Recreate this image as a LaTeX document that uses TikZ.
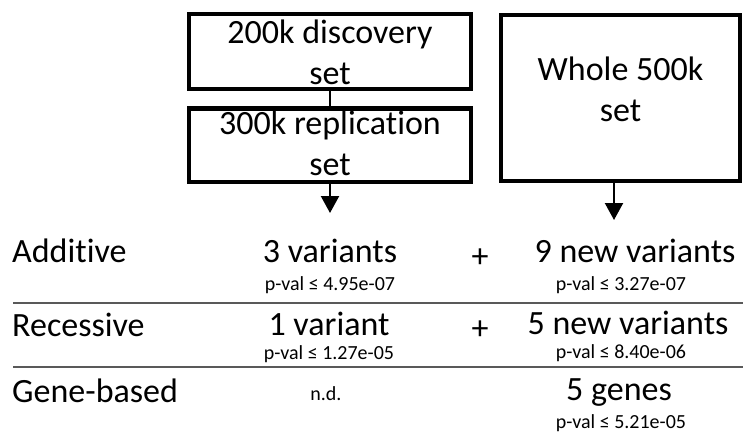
\documentclass[tikz,border=0pt]{standalone}
\usepackage{fontspec}
\setmainfont{Carlito}[Ligatures=NoCommon]
\usetikzlibrary{arrows.meta}

\begin{document}
\begin{tikzpicture}[x=1pt,y=-1pt,
    big/.style={font=\fontsize{34}{41}\selectfont,inner sep=0pt},
    small/.style={font=\fontsize{20}{24}\selectfont,inner sep=0pt},
    setbox/.style={draw,line width=4pt,big,align=center},
    flow/.style={line width=2.2pt,-{Triangle[width=18pt,length=17pt]}}]
        \useasboundingbox (0,0) rectangle (743,433);
        % Draw the sample sets
        \node[setbox,minimum width=282,minimum height=75] (disc) at (330,52) {200k discovery\\set};
        \node[setbox,minimum width=282,minimum height=73,text depth=3pt] (repl) at (330,145) {300k replication\\set};
        \node[setbox,minimum width=239,minimum height=166,text depth=17pt] (whole) at (620.5,98) {Whole 500k\\set};
        % Connect the sets and point to the results
        \coordinate (res1) at (330,213);
        \coordinate (res2) at (614,220);
        \draw[line width=2.2pt] (disc) -- (repl);
        \draw[flow] (repl) -- (res1);
        \draw[flow] (whole.south -| res2) -- (res2);
        % Add row labels and separators
        \foreach \lab/\y [count=\i] in {Additive/262,Recessive/336,Gene-based/402}
            \node[big,anchor=base west] (row\i) at (12,\y) {\lab};
        \foreach \y in {303,367} \draw[black!65,line width=1.5pt] (13,\y) -- (743,\y);
        % Results of the discovery/replication analysis
        \node[big,anchor=base,text depth=0pt] (add1) at (330,262) {3 variants};
        \node[small,anchor=base] (addp1) at (330,290) {p-val ≤ 4.95e-07};
        \node[big,anchor=base,text depth=0pt] (rec1) at (329,335) {1 variant};
        \node[small,anchor=base] (recp1) at (329,359) {p-val ≤ 1.27e-05};
        \node[small,anchor=base] (gen1) at (326,400) {n.d.};
        % Plus signs
        \node[big] (plus1) at (480,258) {+};
        \node[big] (plus2) at (480,330) {+};
        % Results of the whole set analysis
        \node[big,anchor=base,text depth=0pt] (add2) at (635,262) {9 new variants};
        \node[small,anchor=base] (addp2) at (621,290) {p-val ≤ 3.27e-07};
        \node[big,anchor=base,text depth=0pt] (rec2) at (628,334) {5 new variants};
        \node[small,anchor=base] (recp2) at (621,358) {p-val ≤ 8.40e-06};
        \node[big,anchor=base] (gen2) at (619,400) {5 genes};
        \node[small,anchor=base] (genp2) at (621,428) {p-val ≤ 5.21e-05};
    \end{tikzpicture}
\end{document}
